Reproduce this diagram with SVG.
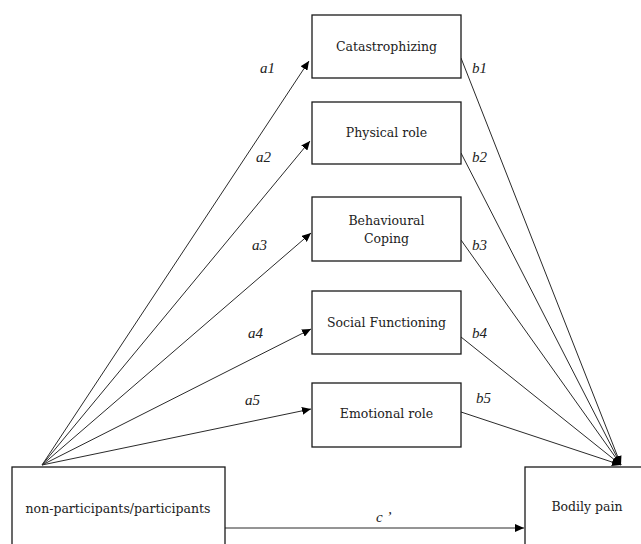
<svg xmlns="http://www.w3.org/2000/svg" width="641" height="544" viewBox="0 0 641 544">
  <style>
    .box { fill: #ffffff; stroke: #1a1a1a; stroke-width: 1.3; }
    .lbl { font-family: "DejaVu Serif", "Liberation Serif", serif; font-size: 12.5px; fill: #222; text-anchor: middle; }
    .path-lbl { font-family: "Liberation Serif", "Times New Roman", serif; font-style: italic; font-size: 15px; fill: #222; }
    .edge { stroke: #2a2a2a; stroke-width: 1; fill: none; marker-end: url(#arrow); }
  </style>
  <defs>
    <marker id="arrow" markerUnits="userSpaceOnUse" markerWidth="10" markerHeight="8" refX="9" refY="4" orient="auto">
      <path d="M0,0 L9,4 L0,8 Z" fill="#000"/>
    </marker>
  </defs>
  <rect width="641" height="544" fill="#ffffff"/>

  <g id="connectors">
    <line class="edge" x1="42" y1="465" x2="309" y2="61"/>
    <line class="edge" x1="42" y1="465" x2="310" y2="141"/>
    <line class="edge" x1="42" y1="465" x2="311" y2="233"/>
    <line class="edge" x1="42" y1="465" x2="311" y2="329"/>
    <line class="edge" x1="42" y1="465" x2="311" y2="409"/>
    <line class="edge" x1="461" y1="58" x2="621" y2="465"/>
    <line class="edge" x1="461" y1="153" x2="621" y2="465"/>
    <line class="edge" x1="461" y1="240" x2="621" y2="465"/>
    <line class="edge" x1="461" y1="337" x2="621" y2="465"/>
    <line class="edge" x1="461" y1="412" x2="621" y2="465"/>
    <line class="edge" x1="225" y1="528" x2="524" y2="528"/>
    <text class="path-lbl" x="260" y="73">a1</text>
    <text class="path-lbl" x="256" y="162">a2</text>
    <text class="path-lbl" x="252" y="250">a3</text>
    <text class="path-lbl" x="248" y="338">a4</text>
    <text class="path-lbl" x="245" y="405">a5</text>
    <text class="path-lbl" x="472" y="73">b1</text>
    <text class="path-lbl" x="472" y="162">b2</text>
    <text class="path-lbl" x="472" y="250">b3</text>
    <text class="path-lbl" x="472" y="338">b4</text>
    <text class="path-lbl" x="476" y="403">b5</text>
    <text class="path-lbl" x="376" y="522">c ’</text>
  </g>

  <g id="catastrophizing">
    <rect class="box" x="312" y="15" width="149" height="63"/>
    <text class="lbl" x="386.5" y="51">Catastrophizing</text>
  </g>
  <g id="physical-role">
    <rect class="box" x="312" y="102" width="149" height="62"/>
    <text class="lbl" x="386.5" y="137">Physical role</text>
  </g>
  <g id="behavioural-coping">
    <rect class="box" x="312" y="197" width="149" height="64"/>
    <text class="lbl" x="386.5" y="225">Behavioural</text>
    <text class="lbl" x="386.5" y="243">Coping</text>
  </g>
  <g id="social-functioning">
    <rect class="box" x="312" y="291" width="149" height="63"/>
    <text class="lbl" x="386.5" y="327">Social Functioning</text>
  </g>
  <g id="emotional-role">
    <rect class="box" x="312" y="383" width="149" height="64"/>
    <text class="lbl" x="386.5" y="418">Emotional role</text>
  </g>
  <g id="participants">
    <rect class="box" x="12" y="467" width="213" height="90"/>
    <text class="lbl" x="118" y="513">non-participants/participants</text>
  </g>
  <g id="bodily-pain">
    <rect class="box" x="525" y="467" width="130" height="90"/>
    <text class="lbl" x="587" y="511">Bodily pain</text>
  </g>
</svg>
